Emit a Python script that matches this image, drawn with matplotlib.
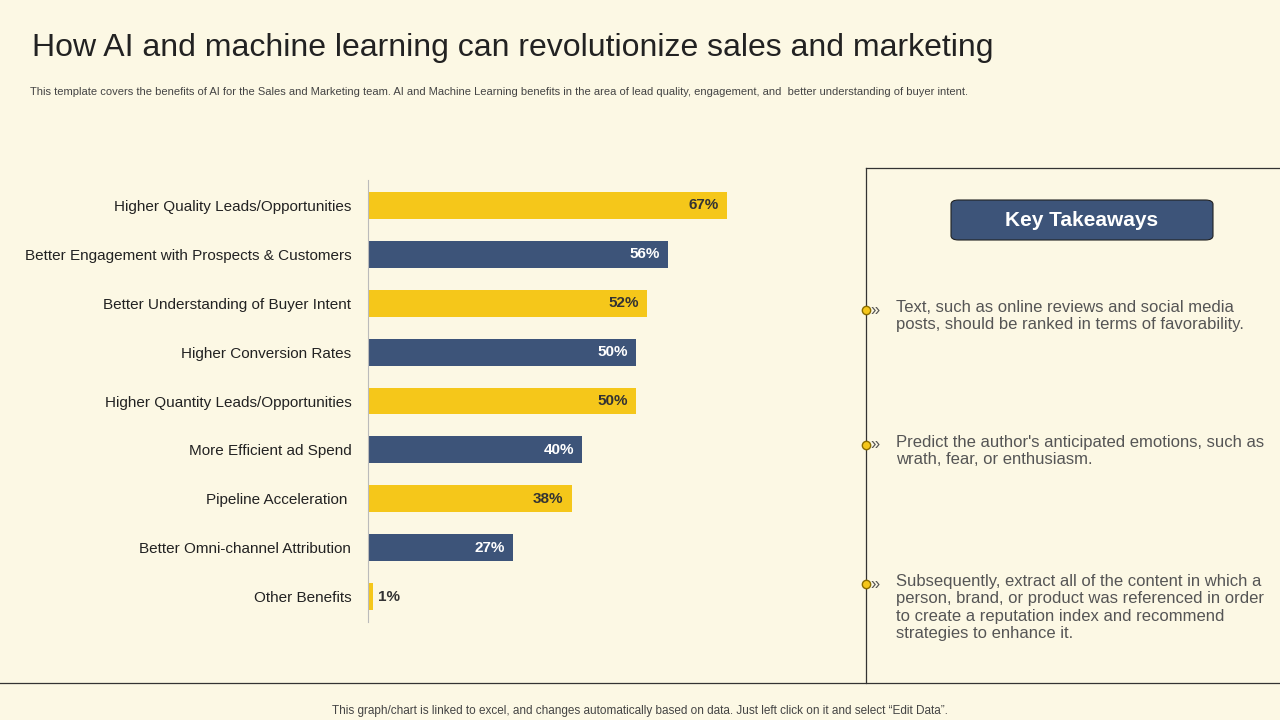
import matplotlib.pyplot as plt
from matplotlib.patches import FancyBboxPatch
from matplotlib.lines import Line2D

plt.rcParams["font.family"] = "Liberation Sans"

BG = "#FCF8E4"
YELLOW = "#F5C71A"
NAVY = "#3D5479"

categories = [
    "Higher Quality Leads/Opportunities",
    "Better Engagement with Prospects & Customers",
    "Better Understanding of Buyer Intent",
    "Higher Conversion Rates",
    "Higher Quantity Leads/Opportunities",
    "More Efficient ad Spend",
    "Pipeline Acceleration ",
    "Better Omni-channel Attribution",
    "Other Benefits",
]
values = [67, 56, 52, 50, 50, 40, 38, 27, 1]
takeaways = [
    "Text, such as online reviews and social media\nposts, should be ranked in terms of favorability.",
    "Predict the author's anticipated emotions, such as\nwrath, fear, or enthusiasm.",
    "Subsequently, extract all of the content in which a\nperson, brand, or product was referenced in order\nto create a reputation index and recommend\nstrategies to enhance it.",
]
takeaway_y = [310, 445, 584]

fig = plt.figure(figsize=(12.8, 7.2), dpi=100, facecolor=BG)

fig.text(32 / 1280, 1 - 48 / 720, "How AI and machine learning can revolutionize sales and marketing",
         fontsize=23, color="#222222", va="center", ha="left")
fig.text(30 / 1280, 1 - 92 / 720,
         "This template covers the benefits of AI for the Sales and Marketing team. AI and Machine Learning "
         "benefits in the area of lead quality, engagement, and  better understanding of buyer intent.",
         fontsize=8, color="#444444", va="center")

ax = fig.add_axes([368 / 1280, 1 - 622 / 720, 536 / 1280, 442 / 720])
ax.set_facecolor(BG)
ypos = list(range(len(categories)))
colors = [YELLOW if i % 2 == 0 else NAVY for i in ypos]
ax.barh(ypos, values, height=0.55, color=colors)
ax.set_ylim(len(categories) - 0.5 + 0.02, -0.5 - 0.02)
ax.set_xlim(0, 100)
ax.set_yticks(ypos)
ax.set_yticklabels(categories, fontsize=11, color="#222222")
ax.tick_params(axis="y", length=0, pad=12)
ax.set_xticks([])
for s in ["top", "right", "bottom"]:
    ax.spines[s].set_visible(False)
ax.spines["left"].set_color("#bbbbbb")
for i, v in enumerate(values):
    tc = "#333333" if colors[i] == YELLOW else "white"
    if v < 5:
        ax.text(v + 0.8, i, f"{v}%", ha="left", va="center", fontsize=11, fontweight="bold", color="#333333")
    else:
        ax.text(v - 1.5, i, f"{v}%", ha="right", va="center", fontsize=11, fontweight="bold", color=tc)

fig.add_artist(Line2D([866 / 1280, 866 / 1280], [1 - 168 / 720, 1 - 683 / 720], color="#333333", lw=0.9))
fig.add_artist(Line2D([866 / 1280, 1], [1 - 168 / 720, 1 - 168 / 720], color="#333333", lw=0.9))
fig.add_artist(Line2D([0, 1], [1 - 683 / 720, 1 - 683 / 720], color="#333333", lw=0.9))

box = FancyBboxPatch((951 / 1280, 1 - 240 / 720), 262 / 1280, 40 / 720,
                     boxstyle="round,pad=0,rounding_size=0.006", transform=fig.transFigure,
                     facecolor=NAVY, edgecolor="#222222", lw=0.8)
fig.add_artist(box)
fig.text(1082 / 1280, 1 - 220 / 720, "Key Takeaways", color="white", fontsize=15,
         fontweight="bold", ha="center", va="center")

for t, y in zip(takeaways, takeaway_y):
    fig.add_artist(Line2D([866 / 1280], [1 - y / 720], marker="o", markersize=6,
                          color=YELLOW, markeredgecolor="#8a6d00"))
    fig.text(870 / 1280, 1 - y / 720, "»", fontsize=12, color="#555555", va="center")
    fig.text(896 / 1280, 1 - (y - 10) / 720, t, fontsize=12, color="#555555", va="top",
             linespacing=1.2)

fig.text(0.5, 1 - 711 / 720,
         "This graph/chart is linked to excel, and changes automatically based on data. "
         "Just left click on it and select \u201cEdit Data\u201d.",
         fontsize=8.5, color="#444444", ha="center", va="center")

fig.savefig("out.png", dpi=100, facecolor=BG)
